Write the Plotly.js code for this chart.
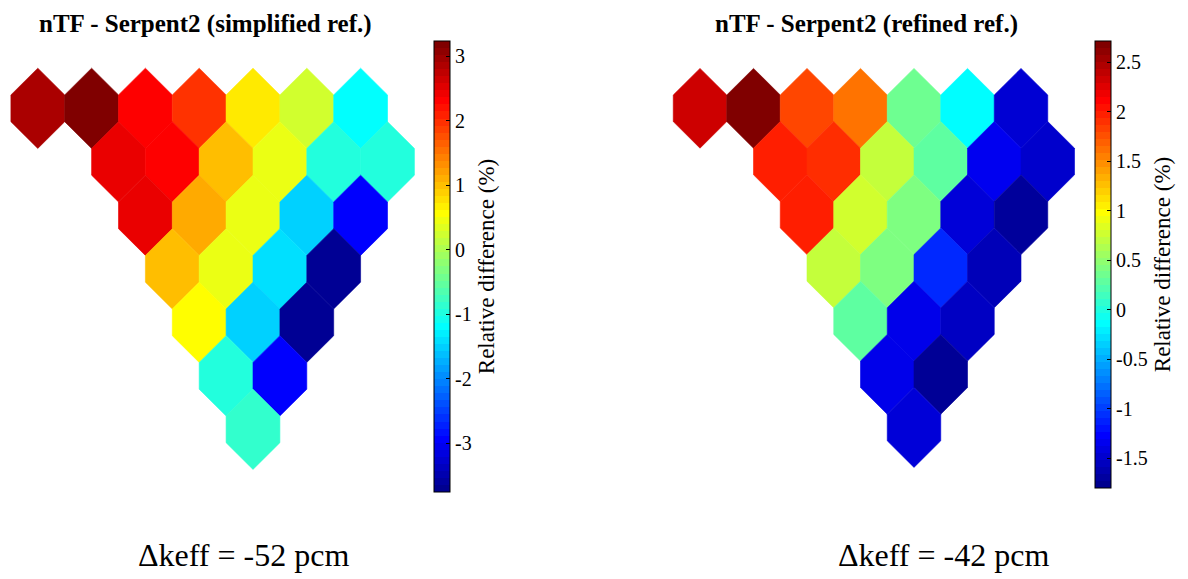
<!DOCTYPE html>
<html>
<head>
<meta charset="utf-8">
<script src="https://cdn.plot.ly/plotly-3.0.1.min.js"></script>
<style>html,body{margin:0;padding:0;background:#fff;}#chart{width:1188px;height:579px;}</style>
</head>
<body>
<div id="chart"></div>
<script>
// ---- Data (relative difference, %) ----
// Hexagonal 1/12 core map, read row by row (top row first)
const rowLengths = [7, 6, 5, 4, 3, 2, 1];

const simplifiedValues = [
  2.95, 3.24, 2.37, 2.02, 0.76, 0.30, -1.13,
  2.51, 2.37, 1.06, 0.48, -0.90, -0.90,
  2.51, 1.20, 0.48, -1.45, -2.89,
  1.06, 0.48, -1.35, -3.62,
  0.62, -1.45, -3.62,
  -0.90, -2.89,
  -0.79
];
const refinedValues = [
  2.37, 2.715, 1.84, 1.64, 0.38, -0.11, -1.43,
  2.02, 1.95, 0.76, 0.31, -1.30, -1.46,
  2.02, 0.82, 0.45, -1.41, -1.68,
  0.76, 0.45, -1.06, -1.55,
  0.31, -1.33, -1.50,
  -1.33, -1.70,
  -1.41
];
const simplifiedCLim = [-3.76, 3.24];
const refinedCLim = [-1.80, 2.715];
const simplifiedTicks = [-3, -2, -1, 0, 1, 2, 3];
const refinedTicks = [-1.5, -1, -0.5, 0, 0.5, 1, 1.5, 2, 2.5];
const titles = ['nTF - Serpent2 (simplified ref.)', 'nTF - Serpent2 (refined ref.)'];
const dkeff = [-52, -42];

// ---- Helpers ----
function clamp(v){ return Math.max(0, Math.min(1, v)); }
function jet(t){
  t = clamp(t);
  const r = clamp(1.5 - Math.abs(4*t - 3));
  const g = clamp(1.5 - Math.abs(4*t - 2));
  const b = clamp(1.5 - Math.abs(4*t - 1));
  return 'rgb(' + Math.round(r*255) + ',' + Math.round(g*255) + ',' + Math.round(b*255) + ')';
}
// MATLAB-like 64-level jet colorscale
const jetScale = [];
for (let i = 0; i < 64; i++) {
  const c = jet((i + 1) / 64);
  jetScale.push([i/64, c]);
  jetScale.push([(i+1)/64, c]);
}

const FONT = 'Liberation Serif, Times New Roman, serif';
const W = 1188, H = 579;

function hexTraces(values, clim, xa, ya){
  const traces = [];
  let idx = 0;
  for (let r = 0; r < rowLengths.length; r++) {
    for (let k = 0; k < rowLengths[r]; k++) {
      const cu = (r === 0) ? k : (1 + r/2 + k);
      const cy = r;
      const v = values[idx++];
      const col = jet((v - clim[0]) / (clim[1] - clim[0]));
      const xs = [cu, cu + 0.5, cu + 0.5, cu, cu - 0.5, cu - 0.5, cu];
      const ys = [cy - 0.75, cy - 0.25, cy + 0.25, cy + 0.75, cy + 0.25, cy - 0.25, cy - 0.75];
      traces.push({
        type: 'scatter', mode: 'lines', x: xs, y: ys, xaxis: xa, yaxis: ya,
        fill: 'toself', fillcolor: col, line: {color: col, width: 0.6},
        hoverinfo: 'text', text: v.toFixed(2) + ' %', showlegend: false
      });
    }
  }
  return traces;
}

function cbTrace(clim, ticks, xa, ya, xpx, topPx, botPx){
  return {
    type: 'scatter', mode: 'markers', x: [-50, -50], y: [-50, -50], xaxis: xa, yaxis: ya,
    hoverinfo: 'skip', showlegend: false,
    marker: {
      color: clim, cmin: clim[0], cmax: clim[1], colorscale: jetScale, opacity: 0, size: 1,
      showscale: true,
      colorbar: {
        x: xpx / W, xanchor: 'left', xpad: 0,
        y: 1 - topPx / H, yanchor: 'top', ypad: 0,
        len: (botPx - topPx) / H, lenmode: 'fraction',
        thickness: 16, thicknessmode: 'pixels',
        outlinewidth: 1, outlinecolor: '#000',
        ticks: 'inside', ticklen: 4, tickcolor: '#000', tickwidth: 1,
        tickvals: ticks, ticktext: ticks.map(String),
        tickfont: {family: FONT, size: 20, color: '#000'},
        title: {text: 'Relative difference (%)', side: 'right', font: {family: FONT, size: 23, color: '#000'}}
      }
    }
  };
}

const data = []
  .concat(hexTraces(simplifiedValues, simplifiedCLim, 'x', 'y'))
  .concat(hexTraces(refinedValues, refinedCLim, 'x2', 'y2'));
data.push(cbTrace(simplifiedCLim, simplifiedTicks, 'x', 'y', 434, 41, 492));
data.push(cbTrace(refinedCLim, refinedTicks, 'x2', 'y2', 1095, 41, 488));

function pxAxisX(p0, p1, c0, s){ return {domain: [p0/W, p1/W], range: [(p0 - c0)/s, (p1 - c0)/s], visible: false, fixedrange: true}; }
function pxAxisY(top, bot, c0, s, anchor){ return {domain: [1 - bot/H, 1 - top/H], range: [(bot - c0)/s, (top - c0)/s], visible: false, fixedrange: true, anchor: anchor}; }

const layout = {
  width: W, height: H,
  margin: {l: 0, r: 0, t: 0, b: 0},
  paper_bgcolor: '#fff', plot_bgcolor: 'rgba(0,0,0,0)',
  showlegend: false,
  xaxis: Object.assign(pxAxisX(0, 420, 37.8, 53.8), {anchor: 'y'}),
  yaxis: pxAxisY(50, 500, 108.3, 53.5, 'x'),
  xaxis2: Object.assign(pxAxisX(660, 1080, 700, 53.5), {anchor: 'y2'}),
  yaxis2: pxAxisY(50, 500, 108.3, 53.2, 'x2'),
  annotations: [
    {text: '<b>' + titles[0] + '</b>', x: 205/W, y: 1 - 24/H, xref: 'paper', yref: 'paper', xanchor: 'center', yanchor: 'middle', showarrow: false, font: {family: FONT, size: 25, color: '#000'}},
    {text: '<b>' + titles[1] + '</b>', x: 866/W, y: 1 - 24/H, xref: 'paper', yref: 'paper', xanchor: 'center', yanchor: 'middle', showarrow: false, font: {family: FONT, size: 25, color: '#000'}},
    {text: 'Δkeff = ' + dkeff[0] + ' pcm', x: 243/W, y: 1 - 555/H, xref: 'paper', yref: 'paper', xanchor: 'center', yanchor: 'middle', showarrow: false, font: {family: FONT, size: 32, color: '#000'}},
    {text: 'Δkeff = ' + dkeff[1] + ' pcm', x: 943/W, y: 1 - 555/H, xref: 'paper', yref: 'paper', xanchor: 'center', yanchor: 'middle', showarrow: false, font: {family: FONT, size: 32, color: '#000'}}
  ]
};

Plotly.newPlot('chart', data, layout, {staticPlot: true, displayModeBar: false});
</script>
</body>
</html>
